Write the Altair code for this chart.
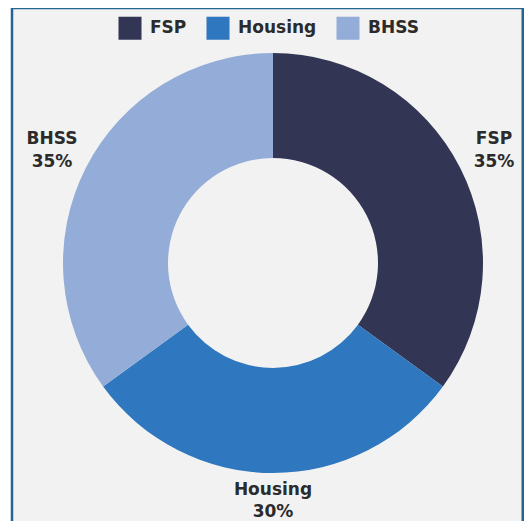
import altair as alt
import pandas as pd

categories = ["FSP", "Housing", "BHSS"]
shares = [35, 30, 35]
colors = ["#323654", "#2f77be", "#93acd8"]

df = pd.DataFrame({
    "category": categories,
    "share": shares,
    "idx": list(range(len(categories))),
    "label": [f"{c}\n{s}%" for c, s in zip(categories, shares)],
})

FONT = "DejaVu Sans"
W, H = 512, 513
CX, CY = 261, 255
BORDER = "#26658f"
TEXT_COLOR = "#2b2b2b"

arc = alt.Chart(df).mark_arc(outerRadius=210, innerRadius=105, stroke=None).encode(
    theta=alt.Theta("share:Q", stack=True),
    order=alt.Order("idx:Q"),
    x=alt.value(CX),
    y=alt.value(CY),
    color=alt.Color(
        "category:N",
        scale=alt.Scale(domain=categories, range=colors),
        legend=alt.Legend(
            orient="none",
            legendX=106,
            legendY=8,
            direction="horizontal",
            title=None,
            symbolType="square",
            symbolSize=530,
            symbolStrokeWidth=0,
            symbolOpacity=1,
            labelFont=FONT,
            labelFontSize=17,
            labelFontWeight="bold",
            labelColor=TEXT_COLOR,
            labelOffset=8,
            columnPadding=19,
        ),
    ),
)

# mid-angle of each slice computed from the data (radians, clockwise from top)
label_base = (
    alt.Chart(df)
    .transform_window(cum="sum(share)", sort=[alt.SortField("idx")])
    .transform_joinaggregate(total="sum(share)")
    .transform_calculate(mid="(datum.cum - datum.share / 2) / datum.total * 2 * PI")
)


def labels(filter_expr, radius, line_height):
    return label_base.transform_filter(filter_expr).mark_text(
        radius=radius,
        font=FONT,
        fontSize=17,
        fontWeight="bold",
        color=TEXT_COLOR,
        lineBreak="\n",
        lineHeight=line_height,
        baseline="middle",
        align="center",
        dy=-11,
    ).encode(
        theta=alt.Theta("mid:Q", scale=None),
        x=alt.value(CX),
        y=alt.value(CY),
        text="label:N",
    )


side_labels = labels("datum.category != 'Housing'", 248, 23)
bottom_labels = labels("datum.category == 'Housing'", 238, 22)

frame_src = alt.Chart(pd.DataFrame({"k": [0]}))
left = frame_src.mark_rule(color=BORDER, strokeWidth=2.5).encode(
    x=alt.value(0), y=alt.value(0), y2=alt.value(H)
)
top = frame_src.mark_rule(color=BORDER, strokeWidth=2.5).encode(
    x=alt.value(0), x2=alt.value(W), y=alt.value(0)
)
right = frame_src.mark_rule(color=BORDER, strokeWidth=2.5).encode(
    x=alt.value(W - 1.25), y=alt.value(0), y2=alt.value(H)
)

chart = (
    alt.layer(arc, side_labels, bottom_labels, left, top, right)
    .properties(
        width=W,
        height=H,
        padding={"left": 4, "top": 0, "right": 0, "bottom": 0},
        autosize="none",
        background="white",
    )
    .configure_view(fill="#f2f2f2", stroke=None)
)

chart.save("out.html", embed_options={"renderer": "svg", "actions": False})
